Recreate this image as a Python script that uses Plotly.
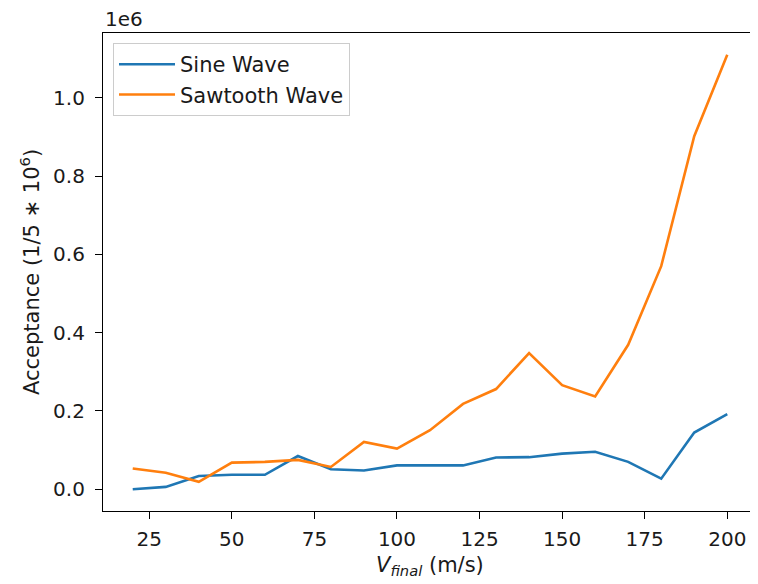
import plotly.graph_objects as go

v_final = [20, 30, 40, 50, 60, 70, 80, 90, 100, 110, 120, 130, 140, 150, 160, 170, 180, 190, 200]
sine_wave = [0, 6000, 34000, 37000, 37000, 85000, 51000, 48000, 61000, 61000, 61000, 81000,
             82000, 91000, 96000, 70000, 27000, 145000, 192000]
sawtooth_wave = [53000, 42000, 19000, 68000, 70000, 75000, 57000, 121000, 104000, 151000, 218000,
                 256000, 348000, 266000, 237000, 369000, 570000, 902000, 1110000]

x_ticks = [25, 50, 75, 100, 125, 150, 175, 200]
y_ticks = [0, 200000, 400000, 600000, 800000, 1000000]
y_tick_labels = ["0.0", "0.2", "0.4", "0.6", "0.8", "1.0"]

FONT = "DejaVu Sans"
FS = 20
FS_L = 21
TXT = "#1a1a1a"

xmin, xmax = min(v_final), max(v_final)
xm = (xmax - xmin) * 0.05
allv = sine_wave + sawtooth_wave
ymin, ymax = min(allv), max(allv)
ym = (ymax - ymin) * 0.05

fig = go.Figure()
fig.add_trace(go.Scatter(x=v_final, y=sine_wave, mode="lines", name="Sine Wave",
                         line=dict(color="#1f77b4", width=2.6)))
fig.add_trace(go.Scatter(x=v_final, y=sawtooth_wave, mode="lines", name="Sawtooth Wave",
                         line=dict(color="#ff7f0e", width=2.6)))

axis_common = dict(showgrid=False, zeroline=False, showline=True, linecolor="black",
                   linewidth=1.2, mirror=True, ticks="outside", ticklen=7, tickwidth=1.2,
                   tickcolor="black", automargin=False,
                   tickfont=dict(family=FONT, size=FS, color=TXT))

fig.update_xaxes(range=[xmin - xm, xmax + xm], tickvals=x_ticks, ticklabelstandoff=3,
                 **axis_common)
fig.update_yaxes(range=[ymin - ym, ymax + ym], tickvals=y_ticks, ticktext=y_tick_labels,
                 ticklabelstandoff=6, **axis_common)

# page body has an 8px default margin, so the figure is offset by 8px
fig.update_layout(
    width=750, height=576,
    margin=dict(l=95, r=1, t=25, b=73, autoexpand=False),
    paper_bgcolor="white", plot_bgcolor="white",
    font=dict(family=FONT, size=FS, color=TXT),
    showlegend=True,
    legend=dict(x=0.0153, y=0.979, xanchor="left", yanchor="top", itemwidth=56,
                bgcolor="rgba(255,255,255,0.8)", bordercolor="#cccccc", borderwidth=1,
                font=dict(family=FONT, size=FS_L, color=TXT), tracegroupgap=0),
    annotations=[
        dict(text="1e6", xref="paper", yref="paper", x=0, y=1.0, xanchor="left",
             yanchor="bottom", showarrow=False, font=dict(family=FONT, size=FS, color=TXT)),
        dict(text="Acceptance (1/5 ∗ 10<sup>6</sup>)", xref="paper", yref="paper",
             x=-0.1116, y=0.5, xanchor="center", yanchor="middle", textangle=-90,
             showarrow=False, font=dict(family=FONT, size=FS_L, color=TXT)),
        dict(text="<i>V</i><sub><i>final</i></sub> (m/s)", xref="paper", yref="paper",
             x=0.5, y=-0.115, xanchor="center", yanchor="middle", showarrow=False,
             font=dict(family=FONT, size=FS_L, color=TXT)),
    ],
)

fig.write_html("out.html")
